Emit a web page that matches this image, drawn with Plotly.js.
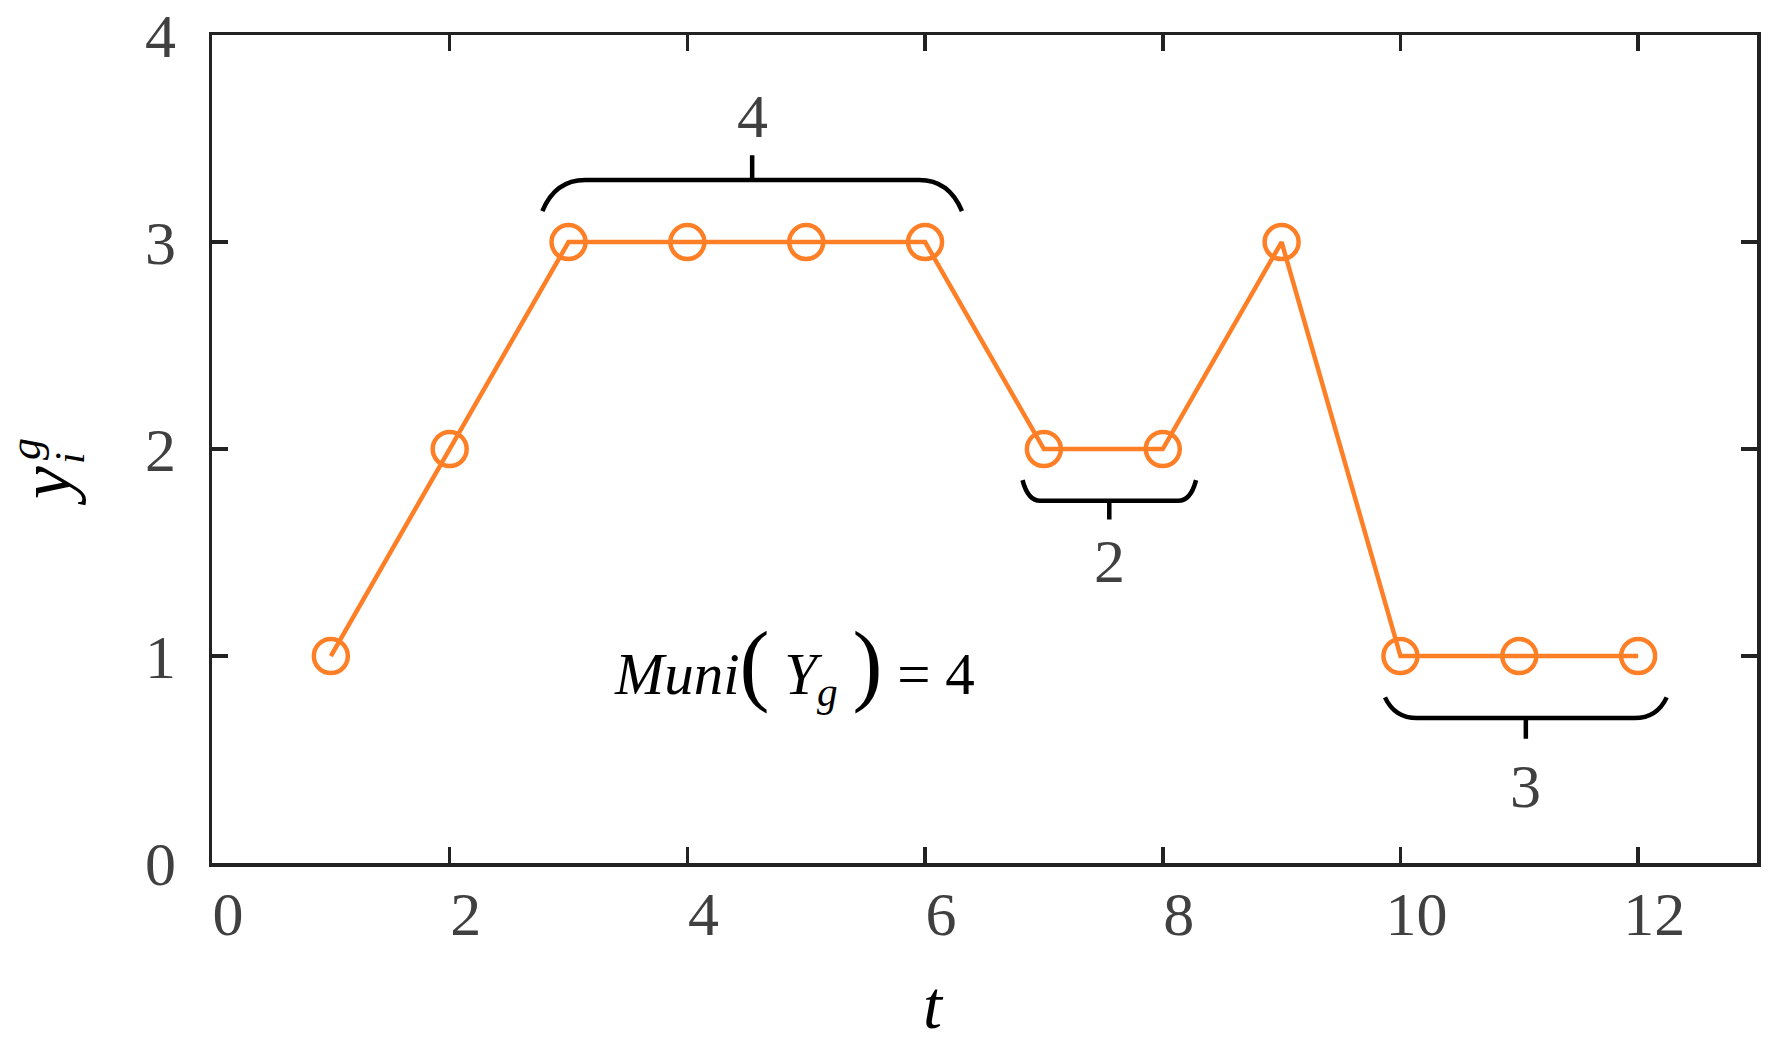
<!DOCTYPE html>
<html>
<head>
<meta charset="utf-8">
<script src="https://cdn.plot.ly/plotly-3.0.1.min.js"></script>
<style>
  html, body { margin: 0; padding: 0; background: #fff; }
  #chart { width: 1787px; height: 1045px; }
</style>
</head>
<body>
<div id="chart"></div>
<script>
// series
const tValues = [1, 2, 3, 4, 5, 6, 7, 8, 9, 10, 11, 12];
const yValues = [1, 2, 3, 3, 3, 3, 2, 2, 3, 1, 1, 1];

// axis ticks
const xTicks = [0, 2, 4, 6, 8, 10, 12];
const yTicks = [0, 1, 2, 3, 4];

// braces marking the runs of equal values (data units)
const braceX0 = [2.78, 6.82, 9.87];
const braceX1 = [6.31, 8.28, 12.24];
const braceCurl = [0.36, 0.15, 0.27];
const braceYEnd = [3.15, 1.85, 0.80];
const braceYFlat = [3.30, 1.75, 0.70];
const braceYTick = [3.42, 1.66, 0.60];
const braceLabelY = [3.61, 1.46, 0.37];
const braceLabels = ['4', '2', '3'];

const orange = '#FF7F27';
const axisColor = '#222222';
const serif = 'Liberation Serif';

// plot area in pixels, used to place the free text labels
const L = 212, R = 1757, T = 35, B = 863;
function px(x) { return (x - L) / (R - L); }
function py(y) { return (B - y) / (B - T); }

const trace = {
    x: tValues,
    y: yValues,
    mode: 'lines+markers',
    type: 'scatter',
    line: {color: orange, width: 4.5},
    marker: {symbol: 'circle-open', size: 34, color: orange, line: {color: orange, width: 4.5}},
    hoverinfo: 'skip'
};

const shapes = [];
const annotations = [];
for (let i = 0; i < braceLabels.length; i++) {
    const x0 = braceX0[i], x1 = braceX1[i], c = braceCurl[i];
    const ye = braceYEnd[i], yf = braceYFlat[i];
    const xm = (x0 + x1) / 2;
    const path = 'M ' + x0 + ',' + ye +
        ' Q ' + (x0 + c * 0.3) + ',' + yf + ' ' + (x0 + c) + ',' + yf +
        ' L ' + (x1 - c) + ',' + yf +
        ' Q ' + (x1 - c * 0.3) + ',' + yf + ' ' + x1 + ',' + ye +
        ' M ' + xm + ',' + yf + ' L ' + xm + ',' + braceYTick[i];
    shapes.push({
        type: 'path', xref: 'x', yref: 'y', path: path,
        line: {color: '#000', width: 4.5}
    });
    annotations.push({
        x: xm, y: braceLabelY[i], xref: 'x', yref: 'y',
        text: braceLabels[i], showarrow: false,
        xanchor: 'center', yanchor: 'middle',
        font: {family: serif, size: 62, color: '#404040'}
    });
}

// Muni(Y_g) = 4
annotations.push({
    x: 4.9, y: 0.96, xref: 'x', yref: 'y', showarrow: false,
    xanchor: 'center', yanchor: 'middle',
    text: '<i>Muni</i><span style="font-size:90px;font-weight:lighter">(</span> <i>Y</i><sub><i>g</i></sub> <span style="font-size:90px;font-weight:lighter">)</span> = 4',
    font: {family: serif, size: 59, color: '#000'}
});

// axis titles
annotations.push({
    x: px(933), y: py(1005), xref: 'paper', yref: 'paper', showarrow: false,
    xanchor: 'center', yanchor: 'middle',
    text: '<i>t</i>', font: {family: serif, size: 68, color: '#000'}
});
annotations.push({
    x: px(45), y: py(486), xref: 'paper', yref: 'paper', showarrow: false,
    xanchor: 'center', yanchor: 'middle', textangle: -90,
    text: '<i>y</i>', font: {family: serif, size: 74, color: '#000'}
});
annotations.push({
    x: px(70), y: py(458), xref: 'paper', yref: 'paper', showarrow: false,
    xanchor: 'center', yanchor: 'middle', textangle: -90,
    text: '<i>i</i>', font: {family: serif, size: 42, color: '#000'}
});
annotations.push({
    x: px(25), y: py(449), xref: 'paper', yref: 'paper', showarrow: false,
    xanchor: 'center', yanchor: 'middle', textangle: -90,
    text: '<i>g</i>', font: {family: serif, size: 44, color: '#000'}
});

const axisCommon = {
    showgrid: false,
    zeroline: false,
    showline: true,
    linewidth: 3.5,
    linecolor: axisColor,
    mirror: 'allticks',
    ticks: 'inside',
    ticklen: 16,
    tickwidth: 3.5,
    tickcolor: axisColor,
    tickfont: {family: serif, size: 62, color: '#404040'},
    fixedrange: true
};

const layout = {
    width: 1787,
    height: 1045,
    margin: {l: L, r: 1787 - R, t: T, b: 1045 - B},
    paper_bgcolor: '#fff',
    plot_bgcolor: '#fff',
    showlegend: false,
    xaxis: Object.assign({}, axisCommon, {
        range: [0, 13], tickmode: 'array', tickvals: xTicks,
        ticktext: xTicks.map(String), ticklabelshift: 16, ticklabelstandoff: -6
    }),
    yaxis: Object.assign({}, axisCommon, {
        range: [0, 4.0005], tickmode: 'array', tickvals: yTicks,
        ticktext: yTicks.map(String), ticklabelstandoff: 20
    }),
    shapes: shapes,
    annotations: annotations
};

Plotly.newPlot('chart', [trace], layout, {displayModeBar: false, staticPlot: true});
</script>
</body>
</html>
